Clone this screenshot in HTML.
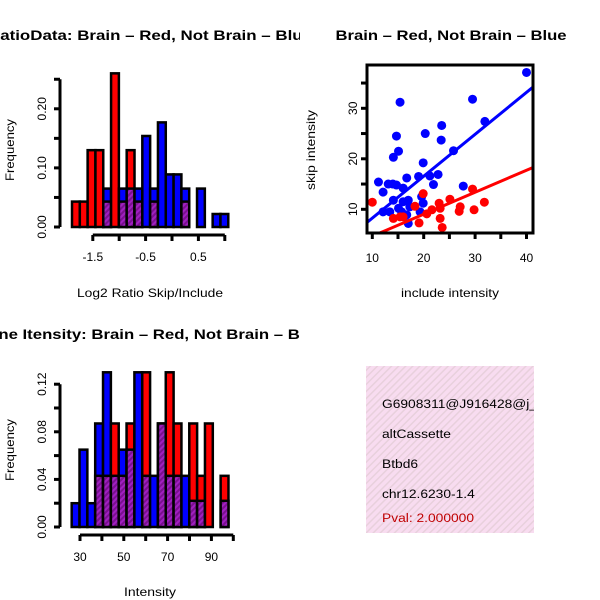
<!DOCTYPE html>
<html><head><meta charset="utf-8">
<style>
html,body{margin:0;padding:0;background:#fff;}
svg{display:block;font-family:"Liberation Sans",sans-serif;}
</style></head>
<body>
<svg id="c" width="600" height="600" viewBox="0 0 600 600" xmlns="http://www.w3.org/2000/svg">
<defs>
<pattern id="hatch" width="4" height="4" patternUnits="userSpaceOnUse" patternTransform="rotate(45)">
<rect width="4" height="4" fill="#a020c0"/><rect width="2" height="4" fill="#7a1090"/>
</pattern>
<pattern id="pinkhatch" width="5" height="5" patternUnits="userSpaceOnUse" patternTransform="rotate(45)">
<rect width="5" height="5" fill="#f8dcf0"/><rect width="1.5" height="5" fill="#e8d0dc"/>
</pattern>
<clipPath id="clipTL"><rect x="0" y="0" width="300" height="300"/></clipPath>
<clipPath id="clipBL"><rect x="0" y="300" width="300" height="300"/></clipPath>
<clipPath id="clipBox"><rect x="366" y="366" width="168" height="167"/></clipPath>
<clipPath id="clipSc"><rect x="367" y="65" width="166" height="168"/></clipPath>
</defs>
<g clip-path="url(#clipTL)">
<text x="150" y="40" text-anchor="middle" font-size="14" font-weight="bold" textLength="324" lengthAdjust="spacingAndGlyphs">RatioData: Brain – Red, Not Brain – Blue</text>
</g>
<text x="451" y="40" text-anchor="middle" font-size="14" font-weight="bold" textLength="231" lengthAdjust="spacingAndGlyphs">Brain – Red, Not Brain – Blue</text>
<g clip-path="url(#clipBL)">
<text x="150" y="339" text-anchor="middle" font-size="14" font-weight="bold" textLength="348" lengthAdjust="spacingAndGlyphs">Gene Itensity: Brain – Red, Not Brain – Blue</text>
</g>
<text x="150" y="297" text-anchor="middle" font-size="12" textLength="146" lengthAdjust="spacingAndGlyphs">Log2 Ratio Skip/Include</text>
<text x="150" y="596" text-anchor="middle" font-size="12" textLength="52" lengthAdjust="spacingAndGlyphs">Intensity</text>
<text x="450" y="297" text-anchor="middle" font-size="12" textLength="98" lengthAdjust="spacingAndGlyphs">include intensity</text>
<text transform="translate(14,150) rotate(-90)" text-anchor="middle" font-size="12" textLength="62" lengthAdjust="spacingAndGlyphs">Frequency</text>
<text transform="translate(14,450) rotate(-90)" text-anchor="middle" font-size="12" textLength="62" lengthAdjust="spacingAndGlyphs">Frequency</text>
<text transform="translate(315,150) rotate(-90)" text-anchor="middle" font-size="12" textLength="80" lengthAdjust="spacingAndGlyphs">skip intensity</text>
<g id="tl"></g><g id="bl"></g><g id="sc"></g>
<g>
<rect x="366" y="366" width="168" height="167" fill="url(#pinkhatch)"/>
<g clip-path="url(#clipBox)">
<g transform="translate(382,0) scale(1.15,1) translate(-382,0)" font-size="12">
<text x="382" y="408">G6908311@J916428@j_at</text>
<text x="382" y="438">altCassette</text>
<text x="382" y="468">Btbd6</text>
<text x="382" y="498">chr12.6230-1.4</text>
<text x="382" y="522" fill="#c00000">Pval: 2.000000</text>
</g>
</g>
</g>
</svg>
<script>
const ratioStart = -1.894, ratioWidth = 0.148;
const ratioRed  = [0.043,0.043,0.13,0.13,0.043,0.26,0.043,0.13,0.043,0,0.043,0,0,0,0.043,0,0,0,0,0];
const ratioBlue = [0,0,0,0,0.065,0,0.065,0.065,0.065,0.154,0.065,0.177,0.089,0.089,0.065,0,0.065,0,0.022,0.022];
const ratioXTicks = [-1.5,-1.0,-0.5,0,0.5,1.0];
const ratioXLabels = ["-1.5","","-0.5","","0.5",""];
const ratioYTicks = [0,0.05,0.10,0.15,0.20,0.25];
const ratioYLabels = ["0.00","","0.10","","0.20",""];

const intStart = 26.2, intWidth = 3.58;
const intRed  = [0,0,0,0.043,0.043,0.087,0.043,0.087,0,0.13,0,0.087,0.13,0.087,0,0.087,0.043,0.087,0,0.043];
const intBlue = [0.02,0.065,0.02,0.087,0.13,0.043,0.065,0.065,0.13,0.043,0.043,0.087,0.043,0.043,0.043,0.022,0.022,0,0,0.022];
const intXTicks = [30,40,50,60,70,80,90,100];
const intXLabels = ["30","","50","","70","","90",""];
const intYTicks = [0,0.02,0.04,0.06,0.08,0.10,0.12];
const intYLabels = ["0.00","","0.04","","0.08","","0.12"];

const blueX = [40.0,15.4,29.5,31.9,23.5,20.3,23.4,14.7,15.1,14.1,25.8,19.9,11.2,12.1,13.1,14.0,14.7,16.7,19.0,21.2,22.8,21.9,27.7,16.0,14.1,16.0,17.0,19.6,19.9,12.1,13.4,15.1,17.3,16.7,19.3,17.0,15.7];
const blueY = [37.1,31.2,31.8,27.4,26.6,25.0,23.7,24.5,21.5,20.3,21.6,19.2,15.4,13.4,15.0,15.0,14.8,16.2,16.5,16.6,16.9,14.9,14.6,14.2,11.8,11.5,11.8,12.5,11.2,9.5,9.5,10.2,10.5,8.9,9.5,7.2,9.5];
const redX = [10.0,19.9,29.5,31.8,27.1,26.9,29.8,25.1,23.0,23.2,23.2,21.6,23.6,14.1,15.4,18.3,19.1,20.6,16.0];
const redY = [11.4,13.1,14.0,11.4,10.5,9.6,9.9,12.0,11.2,10.2,8.2,9.9,6.4,8.2,8.5,10.6,7.3,9.1,8.5];
const blueFit = [0.83,-0.05];
const redFit = [0.435,0.33];
const scXTicks = [10,15,20,25,30,35,40];
const scXLabels = ["10","","20","","30","","40"];
const scYTicks = [10,15,20,25,30,35];
const scYLabels = ["10","","20","","30",""];

const NS = "http://www.w3.org/2000/svg";
function mk(parent, tag, attrs){const e=document.createElementNS(NS,tag);for(const k in attrs)e.setAttribute(k,attrs[k]);parent.appendChild(e);return e;}

function hist(g, name, start, width, red, blue, xs, ys, xTicks, xLabels, yTicks, yLabels, axisXY, yAxisX){
  for(let i=0;i<red.length;i++){
    const x0=xs(start+i*width), x1=xs(start+(i+1)*width);
    const r=red[i], bl=blue[i], mx=Math.max(r,bl), mn=Math.min(r,bl);
    if(mx>0){
      const el=mk(g,'rect',{x:x0,y:ys(mx),width:x1-x0,height:ys(0)-ys(mx),fill:r>=bl?'#ff0000':'#0000ff',stroke:'#000','stroke-width':2.5});
      
      
    }
    if(mn>0){
      const el=mk(g,'rect',{x:x0,y:ys(mn),width:x1-x0,height:ys(0)-ys(mn),fill:'url(#hatch)',stroke:'#000','stroke-width':2.5});
      
      
    }
  }
  const xa=mk(g,'line',{x1:xs(xTicks[0]),x2:xs(xTicks[xTicks.length-1]),y1:axisXY,y2:axisXY,stroke:'#000','stroke-width':3});
  
  
  xTicks.forEach((t,i)=>{
    mk(g,'line',{x1:xs(t),x2:xs(t),y1:axisXY,y2:axisXY+6,stroke:'#000','stroke-width':3});
    if(xLabels[i]){const tx=mk(g,'text',{x:xs(t),y:axisXY+26,'text-anchor':'middle','font-size':12});tx.textContent=xLabels[i];
      
      }
  });
  const ya=mk(g,'line',{x1:yAxisX,x2:yAxisX,y1:ys(yTicks[0]),y2:ys(yTicks[yTicks.length-1]),stroke:'#000','stroke-width':3});
  
  
  yTicks.forEach((t,i)=>{
    mk(g,'line',{x1:yAxisX-6,x2:yAxisX,y1:ys(t),y2:ys(t),stroke:'#000','stroke-width':3});
    if(yLabels[i]){const tx=mk(g,'text',{transform:`translate(${yAxisX-14},${ys(t)}) rotate(-90)`,'text-anchor':'middle','font-size':12});tx.textContent=yLabels[i];
      
      }
  });
}

const tl=document.getElementById('tl');


hist(tl,'ratio',ratioStart,ratioWidth,ratioRed,ratioBlue,v=>172+v*52.8,v=>227-v*591,ratioXTicks,ratioXLabels,ratioYTicks,ratioYLabels,235,60);

const bl=document.getElementById('bl');


hist(bl,'intensity',intStart,intWidth,intRed,intBlue,v=>80+(v-30)*2.19,v=>527-v*1190,intXTicks,intXLabels,intYTicks,intYLabels,535,60);

const sc=document.getElementById('sc');


const sx=v=>372.3+(v-10)*5.14, sy=v=>209.3-(v-10)*5.05;
const clipG=mk(sc,'g',{'clip-path':'url(#clipSc)'});
blueX.forEach((x,i)=>{const c=mk(clipG,'circle',{cx:sx(x),cy:sy(blueY[i]),r:4.5,fill:'#0000ff'});
  
  });
redX.forEach((x,i)=>{const c=mk(clipG,'circle',{cx:sx(x),cy:sy(redY[i]),r:4.5,fill:'#ff0000'});
  
  });
[[blueFit,'#0000ff','not-brain-fit-line'],[redFit,'#ff0000','brain-fit-line']].forEach(([f,col,nm])=>{
  const xa=8,xb=43;
  const l=mk(clipG,'line',{x1:sx(xa),y1:sy(f[0]*xa+f[1]),x2:sx(xb),y2:sy(f[0]*xb+f[1]),stroke:col,'stroke-width':3});
  
  
});
const box=mk(sc,'rect',{x:367,y:65,width:166,height:168,fill:'none',stroke:'#000','stroke-width':3});


scXTicks.forEach((t,i)=>{
  mk(sc,'line',{x1:sx(t),x2:sx(t),y1:233,y2:239,stroke:'#000','stroke-width':3});
  if(scXLabels[i]){const tx=mk(sc,'text',{x:sx(t),y:262,'text-anchor':'middle','font-size':12});tx.textContent=scXLabels[i];
    
    }
});
scYTicks.forEach((t,i)=>{
  mk(sc,'line',{x1:361,x2:367,y1:sy(t),y2:sy(t),stroke:'#000','stroke-width':3});
  if(scYLabels[i]){const tx=mk(sc,'text',{transform:`translate(357,${sy(t)}) rotate(-90)`,'text-anchor':'middle','font-size':12});tx.textContent=scYLabels[i];
    
    }
});
</script>
</body></html>
